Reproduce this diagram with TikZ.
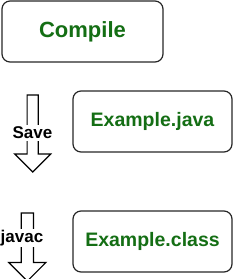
\documentclass[tikz,border=0pt]{standalone}
\usepackage{fontspec}
\setmainfont{Liberation Sans}
\usepackage{tikz}
\usetikzlibrary{shapes.arrows}
\definecolor{stage}{RGB}{20,110,20}

\begin{document}
\begin{tikzpicture}[
  x=1pt, y=-1pt,
  box/.style={draw=black!85, line width=1.2pt, rounded corners=8pt,
    minimum width=159pt, minimum height=61pt, align=center,
    text=stage, font=\fontsize{19.5}{22}\selectfont\bfseries},
  flowarrow/.style={draw, line width=1.2pt, shape=single arrow, rotate=-90,
    inner sep=5pt, single arrow head extend=12.5pt,
    single arrow head indent=0pt},
  tag/.style={fill=white, inner sep=1.5pt, font=\fontsize{17}{20}\selectfont\bfseries}
]
\useasboundingbox (0,0) rectangle (233,279);
\node[box, minimum width=161pt, font=\fontsize{22}{26}\selectfont\bfseries] (compile) at (82.5,31.5) {Compile};
\node[box] (java) at (152.5,121.5) {Example.java};
\node[box] (class) at (152.5,241.5) {Example.class};
% block arrows with their step names
\node[flowarrow, minimum height=77pt] (save) at (32.7,130.7) {};
\node[flowarrow, minimum height=68pt, inner sep=5.5pt] (javac) at (27.3,244) {};
\node[tag] (savetag) at (32.5,133) {Save};
\node[tag] (javactag) at (22,238) {javac};
\end{tikzpicture}
\end{document}
